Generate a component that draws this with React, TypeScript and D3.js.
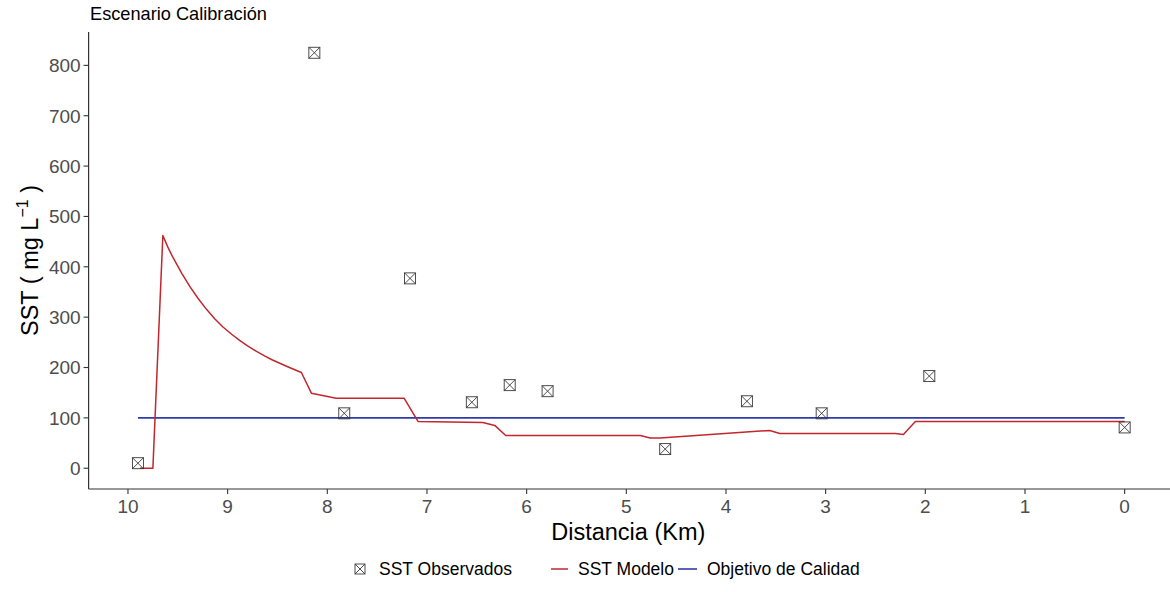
import React from "react";
import * as d3 from "d3";

// observed SST (km, mg/L)
const obsKm = [9.9, 8.13, 7.83, 7.17, 6.55, 6.17, 5.79, 4.61, 3.79, 3.04, 1.96, 0];
const obsVal = [10, 825, 109, 377, 131, 165, 153, 38, 133, 109, 183, 81];

// model SST line
const modelKm = [9.88, 9.75, 9.65, 9.6, 9.55, 9.46, 9.38, 9.3, 9.21, 9.13, 9.05, 8.96, 8.88, 8.8, 8.71, 8.63, 8.55, 8.46, 8.38, 8.26, 8.16, 7.91, 7.23, 7.09, 6.44, 6.32, 6.21, 4.86, 4.76, 4.66, 3.56, 3.46, 2.3, 2.22, 2.1, 0];
const modelVal = [0, 0, 462, 439, 419, 387, 361, 338, 315, 297, 281, 266, 254, 243, 232, 223, 215, 207, 200, 190, 149, 139, 139, 93, 91, 85, 65, 65, 60, 60, 75, 69, 69, 67, 93, 93];

// quality objective
const objKm = [9.9, 0];
const objVal = [100, 100];

const xTicks = [10, 9, 8, 7, 6, 5, 4, 3, 2, 1, 0];
const yTicks = [0, 100, 200, 300, 400, 500, 600, 700, 800];

const W = 1170;
const H = 592;
const font = "'Liberation Sans', Arial, sans-serif";
const RED = "#c1272d";
const BLUE = "#2f3ba8";

export default function App() {
  const left = 88.6;
  const right = 1174;
  const top = 32;
  const bottom = 489;

  const x = d3.scaleLinear().domain([10.395, -0.495]).range([left, right]);
  const y = d3.scaleLinear().domain([-41.25, 866.25]).range([bottom, top]);

  const path = (ks: number[], vs: number[]) =>
    d3
      .line<number>()
      .x((d) => x(d))
      .y((_, i) => y(vs[i]))(ks) || "";

  // square with a cross (ggplot shape 7)
  const box = (cx: number, cy: number, s: number, key: string) => (
    <g key={key} stroke="#3a3a3a" strokeWidth={0.9} fill="none">
      <rect x={cx - s / 2} y={cy - s / 2} width={s} height={s} />
      <line x1={cx - s / 2} y1={cy - s / 2} x2={cx + s / 2} y2={cy + s / 2} />
      <line x1={cx - s / 2} y1={cy + s / 2} x2={cx + s / 2} y2={cy - s / 2} />
    </g>
  );

  const legY = 569;

  return (
    <div style={{ position: "fixed", left: 0, top: 0 }}>
      <svg width={W} height={H} style={{ display: "block", background: "#fff" }} fontFamily={font}>
        <text x={90} y={20} fontSize={18.2} fill="#000">
          Escenario Calibración
        </text>

        {/* lines */}
        <path d={path(objKm, objVal)} fill="none" stroke={BLUE} strokeWidth={1.6} />
        <path d={path(modelKm, modelVal)} fill="none" stroke={RED} strokeWidth={1.5} strokeLinejoin="round" />

        {/* observed */}
        {obsKm.map((k, i) => box(x(k), y(obsVal[i]), 11, "o" + i))}

        {/* axes */}
        <line x1={left} x2={left} y1={top} y2={bottom} stroke="#333" strokeWidth={1.2} />
        <line x1={left} x2={W} y1={bottom} y2={bottom} stroke="#333" strokeWidth={1.2} />
        {yTicks.map((t) => (
          <g key={"y" + t}>
            <line x1={left - 5} x2={left} y1={y(t)} y2={y(t)} stroke="#333" strokeWidth={1.1} />
            <text x={left - 8} y={y(t)} dy="0.36em" textAnchor="end" fontSize={19} fill="#4d4d4d">
              {t}
            </text>
          </g>
        ))}
        {xTicks.map((t) => (
          <g key={"x" + t}>
            <line x1={x(t)} x2={x(t)} y1={bottom} y2={bottom + 5} stroke="#333" strokeWidth={1.1} />
            <text x={x(t)} y={513} textAnchor="middle" fontSize={19} fill="#4d4d4d">
              {t}
            </text>
          </g>
        ))}

        <text x={(left + 1168) / 2} y={540} textAnchor="middle" fontSize={23.5} fill="#000">
          Distancia (Km)
        </text>
        <text transform={`translate(38,${(top + bottom) / 2}) rotate(-90)`} textAnchor="middle" fontSize={23.5} fill="#000">
          SST ( mg L
          <tspan fontSize={16} dy={-10}>−1</tspan>
          <tspan dy={10}> )</tspan>
        </text>

        {/* legend */}
        {box(360, legY, 10, "leg")}
        <text x={379} y={legY + 6} fontSize={17.5} fill="#000">SST Observados</text>
        <line x1={551} x2={568} y1={legY} y2={legY} stroke={RED} strokeWidth={1.5} />
        <text x={578} y={legY + 6} fontSize={17.5} fill="#000">SST Modelo</text>
        <line x1={678} x2={697} y1={legY} y2={legY} stroke={BLUE} strokeWidth={1.6} />
        <text x={707} y={legY + 6} fontSize={17.5} fill="#000">Objetivo de Calidad</text>
      </svg>
    </div>
  );
}
